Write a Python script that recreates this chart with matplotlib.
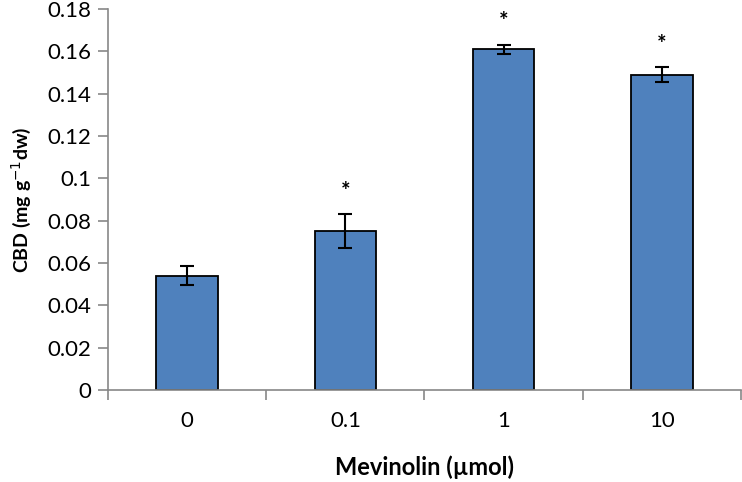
import numpy as np
import matplotlib.pyplot as plt

doses = ["0", "0.1", "1", "10"]
cbd = [0.054, 0.075, 0.161, 0.149]
err = [0.0045, 0.008, 0.002, 0.0035]
signif = [False, True, True, True]

plt.rcParams['font.family'] = ['Lato', 'DejaVu Sans']

fig = plt.figure(figsize=(7.42, 4.82), dpi=100)
ax = fig.add_axes([0.1456, 0.191, 0.853, 0.79])

x = np.arange(len(doses))
ax.bar(x, cbd, width=0.39, color="#4F81BD", edgecolor="black", linewidth=1.3, zorder=2)
ax.errorbar(x, cbd, yerr=err, fmt="none", ecolor="black", elinewidth=1.5,
            capsize=5, capthick=1.5, zorder=3)
for xi, v, e, s in zip(x, cbd, err, signif):
    if s:
        ax.text(xi, v + e + 0.006, "*", ha="center", va="bottom", fontsize=16,
                fontweight="bold")

ax.set_xlim(-0.5, len(doses) - 0.5)
ax.set_ylim(0, 0.18)
ax.set_yticks(np.arange(0, 0.181, 0.02))
ax.set_yticklabels(["0", "0.02", "0.04", "0.06", "0.08", "0.1", "0.12", "0.14", "0.16", "0.18"])
ax.set_xticks(x)
ax.set_xticklabels(doses)
ax.set_xticks(np.arange(-0.5, len(doses)), minor=True)
ax.tick_params(axis="x", which="major", length=0, pad=15, labelsize=16)
ax.tick_params(axis="x", which="minor", length=7, color="#888888", width=1.2)
ax.tick_params(axis="y", length=7, color="#888888", width=1.2, labelsize=16, pad=5)

for side in ["top", "right"]:
    ax.spines[side].set_visible(False)
for side in ["left", "bottom"]:
    ax.spines[side].set_color("#888888")
    ax.spines[side].set_linewidth(1.2)

ax.set_ylabel("CBD (mg g$^{-1}$dw)", fontsize=14, fontweight="bold", labelpad=10)
ax.set_xlabel("Mevinolin (\u00b5mol)", fontsize=17, fontweight="bold", labelpad=18)

fig.savefig("out.png", dpi=100)
